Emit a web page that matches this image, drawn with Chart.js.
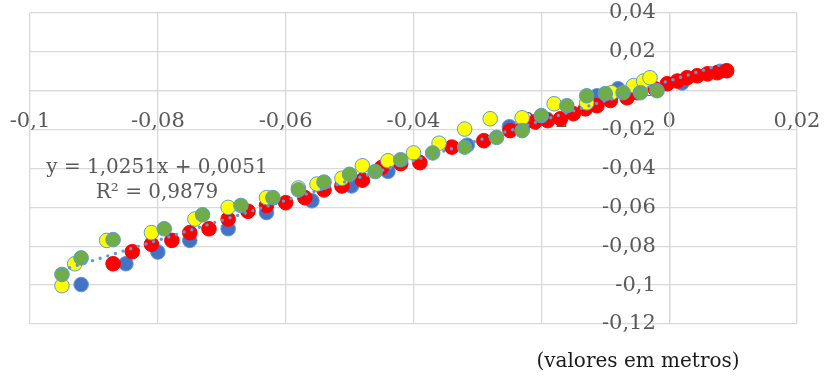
<!DOCTYPE html>
<html>
<head>
<meta charset="utf-8">
<script src="https://cdn.jsdelivr.net/npm/chart.js@4/dist/chart.umd.min.js"></script>
<style>
  html, body { margin: 0; padding: 0; background: #ffffff; }
  #wrap { width: 824px; height: 379px; }
</style>
</head>
<body>
<div id="wrap"><canvas id="c" width="824" height="379"></canvas></div>
<script>
// ---- data (metres) ----
const xTickLabels = ['-0,1', '-0,08', '-0,06', '-0,04', '-0,02', '0', '0,02'];
const yTickLabels = ['-0,12', '-0,1', '-0,08', '-0,06', '-0,04', '-0,02', '0', '0,02', '0,04'];

const blueSeries = [
  [-0.092, -0.0997], [-0.085, -0.089], [-0.080, -0.083], [-0.075, -0.077],
  [-0.069, -0.071], [-0.063, -0.0627], [-0.0559, -0.0566], [-0.0497, -0.049],
  [-0.044, -0.0415], [-0.0316, -0.028], [-0.025, -0.0185], [-0.0113, -0.0026],
  [-0.008, 0.001], [0.002, 0.004], [0.008, 0.010]
];
const redSeries = [
  [-0.087, -0.089], [-0.084, -0.0828], [-0.081, -0.079], [-0.0778, -0.077],
  [-0.075, -0.073], [-0.072, -0.071], [-0.069, -0.066], [-0.0659, -0.062],
  [-0.063, -0.059], [-0.060, -0.0576], [-0.057, -0.055], [-0.054, -0.051],
  [-0.0512, -0.049], [-0.048, -0.046], [-0.045, -0.0395], [-0.042, -0.0375],
  [-0.039, -0.037], [-0.034, -0.029], [-0.029, -0.0257], [-0.0249, -0.0205],
  [-0.023, -0.0195], [-0.021, -0.016], [-0.019, -0.0154], [-0.017, -0.0144],
  [-0.015, -0.0118], [-0.0131, -0.0093], [-0.0113, -0.0077], [-0.0092, -0.005],
  [-0.0066, -0.0036], [-0.005, -0.001], [-0.0022, 0.001], [-0.0003, 0.0036],
  [0.0013, 0.005], [0.0028, 0.0067], [0.0044, 0.0077], [0.006, 0.0087],
  [0.0075, 0.0093], [0.009, 0.0103]
];
const yellowSeries = [
  [-0.095, -0.1003], [-0.093, -0.089], [-0.088, -0.077], [-0.081, -0.073],
  [-0.0742, -0.066], [-0.069, -0.060], [-0.063, -0.055], [-0.058, -0.050],
  [-0.0551, -0.048], [-0.0512, -0.045], [-0.048, -0.0386], [-0.044, -0.036],
  [-0.040, -0.032], [-0.036, -0.027], [-0.032, -0.0197], [-0.028, -0.0144],
  [-0.023, -0.0139], [-0.018, -0.0067], [-0.0129, -0.0062], [-0.009, -0.001],
  [-0.0056, 0.0026], [-0.004, 0.005], [-0.003, 0.0067]
];
const greenSeries = [
  [-0.095, -0.0945], [-0.092, -0.086], [-0.087, -0.0766], [-0.079, -0.071],
  [-0.073, -0.0638], [-0.067, -0.059], [-0.062, -0.055], [-0.058, -0.051],
  [-0.054, -0.047], [-0.050, -0.043], [-0.046, -0.0416], [-0.042, -0.0355],
  [-0.037, -0.032], [-0.032, -0.029], [-0.027, -0.024], [-0.023, -0.0205],
  [-0.020, -0.0128], [-0.016, -0.0077], [-0.0129, -0.0026], [-0.010, -0.0015],
  [-0.0072, -0.001], [-0.0045, -0.001], [-0.0019, 0.0]
];
const trendLine = [[-0.095, -0.0923], [0.0088, 0.0141]];
const equationText = ['y = 1,0251x + 0,0051', 'R² = 0,9879'];
const captionText = '(valores em metros)';

// ---- chart ----
const toPts = arr => arr.map(p => ({ x: p[0], y: p[1] }));
const FONT = "'DejaVu Serif', 'Liberation Serif', serif";
const GRID = '#d9d9d9';

function dotSet(data, fill, border, order) {
  return {
    type: 'scatter', data: toPts(data), order: order,
    backgroundColor: fill, borderColor: border, borderWidth: 1,
    pointRadius: 7.3, pointHoverRadius: 7.3, showLine: false
  };
}

const textPlugin = {
  id: 'texts',
  beforeDatasetsDraw(chart) {
    const ctx = chart.ctx;
    ctx.save();
    ctx.fillStyle = '#595959';
    ctx.font = '20px ' + FONT;
    ctx.textAlign = 'center';
    ctx.textBaseline = 'alphabetic';
    ctx.fillText(equationText[0], 157, 173);
    ctx.fillText(equationText[1], 157, 198);
    ctx.restore();
  },
  afterDraw(chart) {
    const ctx = chart.ctx;
    ctx.save();
    ctx.fillStyle = '#1a1a1a';
    ctx.font = '20px ' + FONT;
    ctx.textAlign = 'center';
    ctx.textBaseline = 'alphabetic';
    ctx.fillText(captionText, 638, 367);
    ctx.restore();
  }
};

const noPad = s => { s.paddingLeft = 0; s.paddingRight = 0; s.paddingTop = 0; s.paddingBottom = 0; };

new Chart(document.getElementById('c'), {
  type: 'scatter',
  data: {
    datasets: [
      dotSet(blueSeries, '#4472C4', '#5B9BD5', 4),
      dotSet(redSeries, '#FF0000', '#FF0000', 3),
      dotSet(yellowSeries, '#FFFF00', '#5B9BD5', 2),
      dotSet(greenSeries, '#70AD47', '#5B9BD5', 1),
      {
        type: 'scatter', data: toPts(trendLine), order: 0, showLine: true,
        pointRadius: 0, borderColor: '#5B9BD5', borderWidth: 3.4,
        borderDash: [0, 8], borderCapStyle: 'round', fill: false
      }
    ]
  },
  options: {
    responsive: false,
    animation: false,
    layout: { padding: { left: 30, right: 27, top: 13, bottom: 55 } },
    plugins: { legend: { display: false }, tooltip: { enabled: false } },
    scales: {
      x: {
        type: 'linear', min: -0.1, max: 0.02, position: { y: 0 },
        afterFit: noPad,
        grid: { color: GRID, lineWidth: 1.3, drawTicks: false },
        border: { color: GRID, width: 1.3 },
        ticks: {
          stepSize: 0.02, padding: 18, color: '#595959',
          font: { family: FONT, size: 21 },
          maxRotation: 0, autoSkip: false,
          callback: (v, i) => xTickLabels[i]
        }
      },
      y: {
        type: 'linear', min: -0.12, max: 0.04, position: { x: 0 },
        afterFit: noPad,
        grid: { color: GRID, lineWidth: 1.3, drawTicks: false },
        border: { color: GRID, width: 1.3 },
        ticks: {
          stepSize: 0.02, padding: 0, color: '#595959',
          font: { family: FONT, size: 21 },
          autoSkip: false,
          callback: (v, i) => yTickLabels[i] + '  '
        }
      }
    }
  },
  plugins: [textPlugin]
});
</script>
</body>
</html>
